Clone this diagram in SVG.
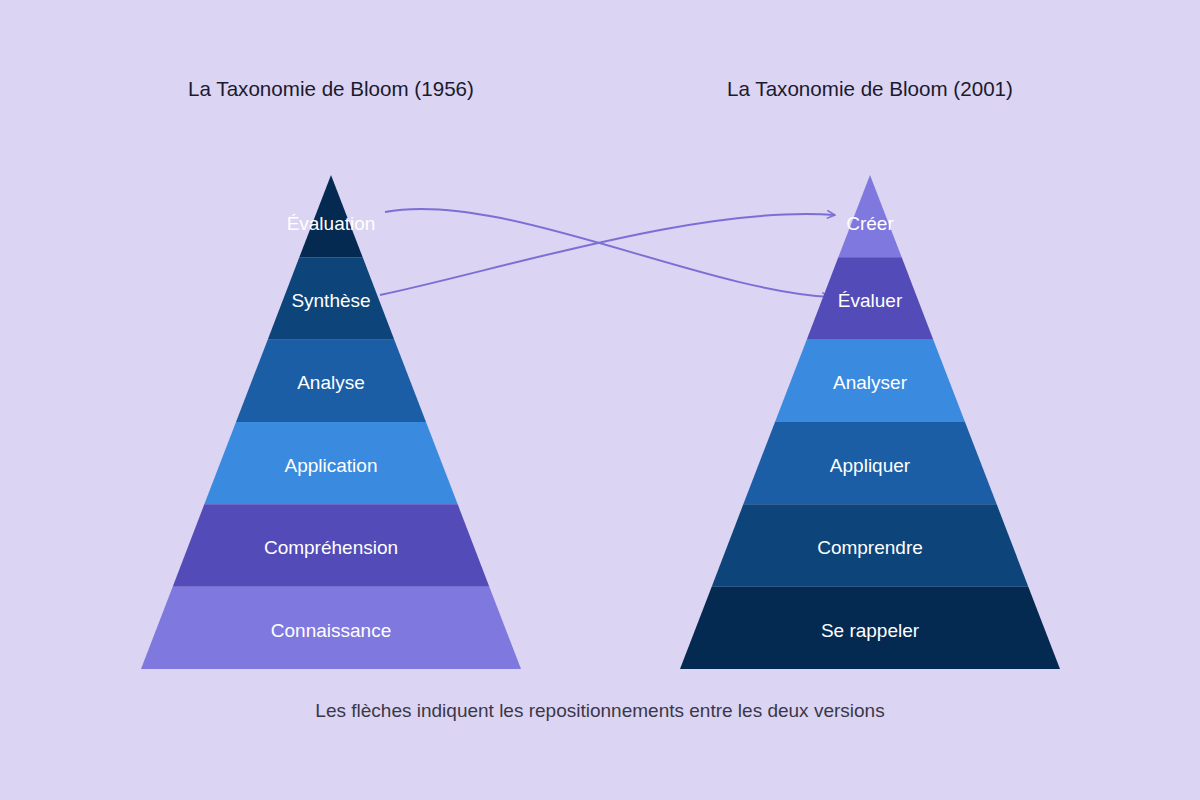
<svg xmlns="http://www.w3.org/2000/svg" width="1200" height="800" viewBox="0 0 1200 800">
<defs>
<style>
.title{font-family:"Liberation Sans",Arial,sans-serif;font-size:20.6px;fill:#1c1a2e;text-anchor:middle}
.lbl{font-family:"Liberation Sans",Arial,sans-serif;font-size:19px;fill:#ffffff;text-anchor:middle}
.cap{font-family:"Liberation Sans",Arial,sans-serif;font-size:19px;fill:#3a3848;text-anchor:middle}
.conn{fill:none;stroke:#7b6fd6;stroke-width:2}
</style>
<marker id="arr" viewBox="0 0 10 10" refX="9" refY="5" markerWidth="10" markerHeight="10" markerUnits="userSpaceOnUse" orient="auto">
<path d="M1,1 L9,5 L1,9" fill="none" stroke="#7b6fd6" stroke-width="1.5"/>
</marker>
</defs>
<rect width="1200" height="800" fill="#dbd4f2"/>
<text class="title" x="331" y="96">La Taxonomie de Bloom (1956)</text>
<text class="title" x="870" y="96">La Taxonomie de Bloom (2001)</text>
<g id="connectors">
<path class="conn" d="M385,212 C500,190 700,290 830,297" marker-end="url(#arr)"/>
<path class="conn" d="M380,295 C500,270 700,205 835,215" marker-end="url(#arr)"/>
</g>
<g id="left-evaluation"><polygon points="331,175 362.7,257.3 299.3,257.3" fill="#042a52"/><text class="lbl" x="331" y="230">Évaluation</text></g>
<g id="left-synthese"><polygon points="299.3,257.3 362.7,257.3 394.3,339.7 267.7,339.7" fill="#0d4479"/><text class="lbl" x="331" y="307">Synthèse</text></g>
<g id="left-analyse"><polygon points="267.7,339.7 394.3,339.7 426,422 236,422" fill="#1b5ea5"/><text class="lbl" x="331" y="389">Analyse</text></g>
<g id="left-application"><polygon points="236,422 426,422 457.7,504.3 204.3,504.3" fill="#3a8ae0"/><text class="lbl" x="331" y="472">Application</text></g>
<g id="left-comprehension"><polygon points="204.3,504.3 457.7,504.3 489.3,586.7 172.7,586.7" fill="#524bb8"/><text class="lbl" x="331" y="554">Compréhension</text></g>
<g id="left-connaissance"><polygon points="172.7,586.7 489.3,586.7 521,669 141,669" fill="#7f78de"/><text class="lbl" x="331" y="637">Connaissance</text></g>
<g id="right-creer"><polygon points="870,175 901.7,257.3 838.3,257.3" fill="#7f78de"/><text class="lbl" x="870" y="230">Créer</text></g>
<g id="right-evaluer"><polygon points="838.3,257.3 901.7,257.3 933.3,339.7 806.7,339.7" fill="#524bb8"/><text class="lbl" x="870" y="307">Évaluer</text></g>
<g id="right-analyser"><polygon points="806.7,339.7 933.3,339.7 965,422 775,422" fill="#3a8ae0"/><text class="lbl" x="870" y="389">Analyser</text></g>
<g id="right-appliquer"><polygon points="775,422 965,422 996.7,504.3 743.3,504.3" fill="#1b5ea5"/><text class="lbl" x="870" y="472">Appliquer</text></g>
<g id="right-comprendre"><polygon points="743.3,504.3 996.7,504.3 1028.3,586.7 711.7,586.7" fill="#0d4479"/><text class="lbl" x="870" y="554">Comprendre</text></g>
<g id="right-serappeler"><polygon points="711.7,586.7 1028.3,586.7 1060,669 680,669" fill="#042a52"/><text class="lbl" x="870" y="637">Se rappeler</text></g>
<text class="cap" x="600" y="717">Les flèches indiquent les repositionnements entre les deux versions</text>
</svg>
